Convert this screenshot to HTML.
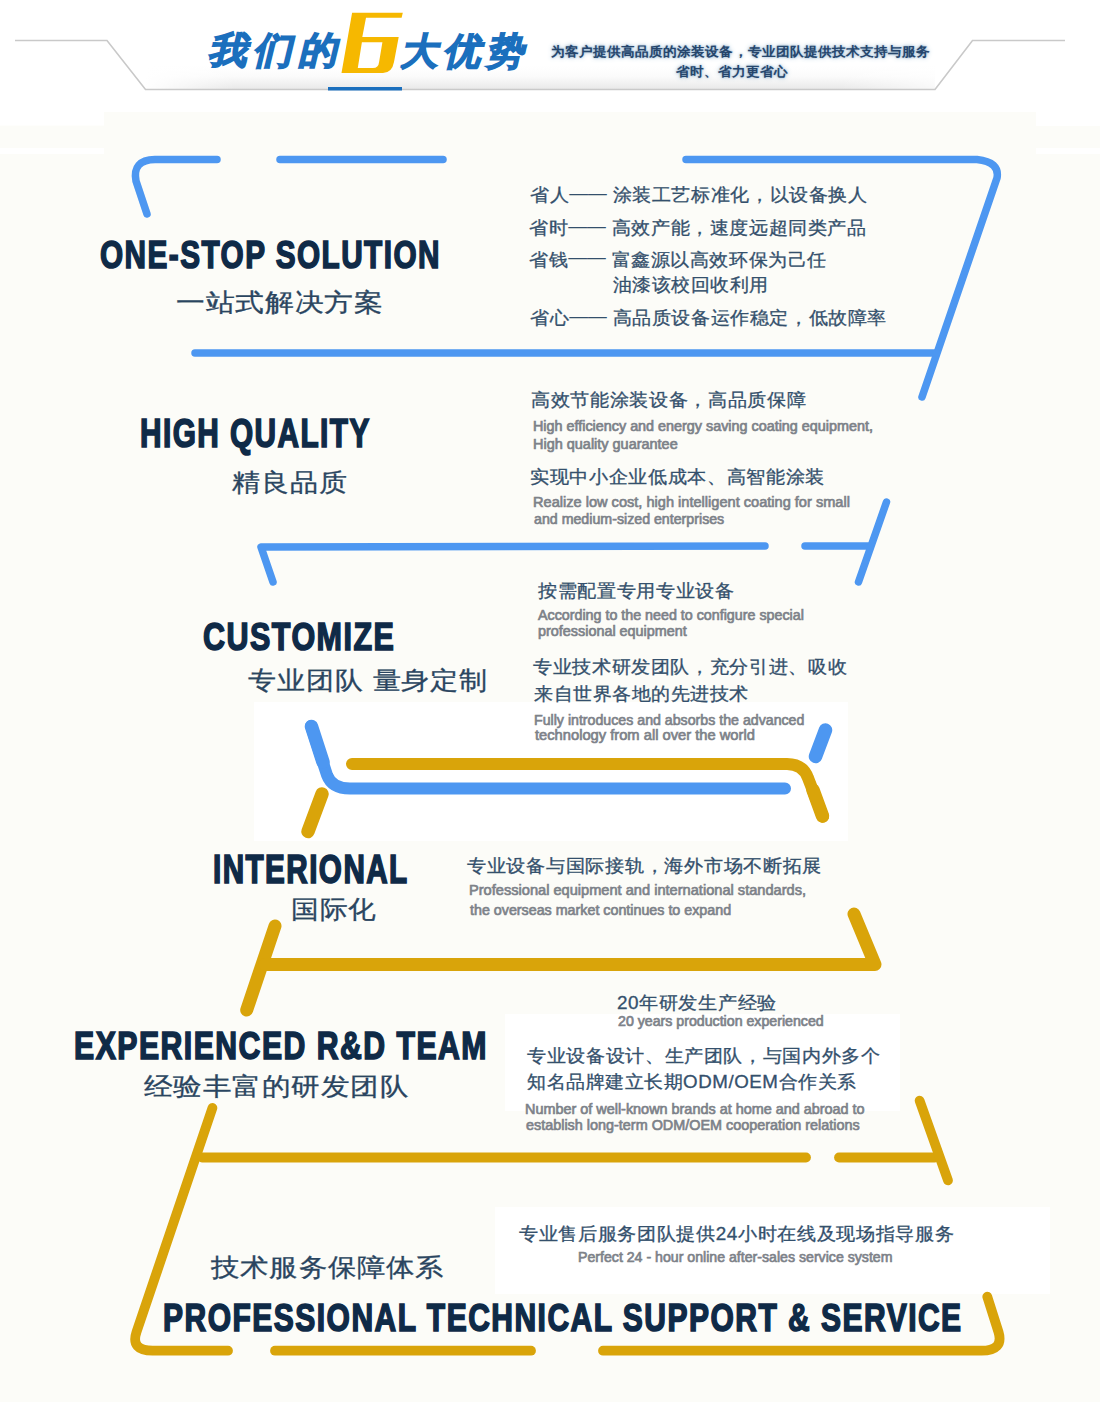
<!DOCTYPE html>
<html><head><meta charset="utf-8">
<style>
html,body{margin:0;padding:0;}
body{width:1100px;height:1402px;position:relative;overflow:hidden;background:#fcfcf8;font-family:"Liberation Sans",sans-serif;}
.a{position:absolute;white-space:nowrap;line-height:1;transform-origin:0 0;}
.ttl{font-weight:bold;color:#0f2a47;}
.cn{color:#2a4560;}
.rt{color:#34506c;}
.en{color:#7d8289;font-weight:normal;-webkit-text-stroke:0.7px #7d8289;}
.hd{font-weight:900;color:#1b6fbd;}
.hs{font-weight:bold;color:#26466c;text-shadow:0 0 2px rgba(130,165,200,0.9),0 0 5px rgba(160,190,215,0.9);}
svg{position:absolute;left:0;top:0;}
.ttl{-webkit-text-stroke:1.7px #0f2a47;}
.rt,.cn{-webkit-text-stroke:0.3px currentColor;}
.hd{-webkit-text-stroke:1.5px #1b6fbd;}
.d{letter-spacing:0;position:relative;top:-2.5px;-webkit-text-stroke:0;}

</style></head><body>
<svg width="1100" height="1402" viewBox="0 0 1100 1402">
  <defs>
    <linearGradient id="band" x1="0" y1="0" x2="0" y2="1">
      <stop offset="0" stop-color="#ffffff"/>
      <stop offset="0.45" stop-color="#fbfbfb"/>
      <stop offset="1" stop-color="#e9e9e9"/>
    </linearGradient>
    <linearGradient id="fadeL" x1="0" y1="0" x2="1" y2="0">
      <stop offset="0" stop-color="#ffffff" stop-opacity="1"/>
      <stop offset="1" stop-color="#ffffff" stop-opacity="0"/>
    </linearGradient>
    <linearGradient id="fadeR" x1="0" y1="0" x2="1" y2="0">
      <stop offset="0" stop-color="#ffffff" stop-opacity="0"/>
      <stop offset="1" stop-color="#ffffff" stop-opacity="0.7"/>
    </linearGradient>
  </defs>
  <!-- header -->
  <g fill="#ffffff">
  <rect x="0" y="0" width="1100" height="112"/>
  <rect x="0" y="112" width="104" height="13.5"/>
  <rect x="1036" y="112" width="64" height="14"/>
  <rect x="0" y="148" width="104" height="6"/>
  <rect x="1036" y="148" width="64" height="6"/>
  <rect x="505" y="1014" width="395" height="97"/>
  <rect x="495" y="1207" width="555" height="87"/>
  </g>
  <polygon points="145,66 935,66 935,89 145,89" fill="url(#band)"/>
  <rect x="145" y="60" width="90" height="30" fill="url(#fadeL)"/>
  <rect x="840" y="60" width="96" height="30" fill="url(#fadeR)"/>
  <polyline points="15,40.5 107,40.5 145.5,89.5 935,89.5 972.5,40.5 1065,40.5" fill="none" stroke="#c9c9c9" stroke-width="1.6"/>
  <rect x="328" y="87" width="74" height="3.5" fill="#1b6fbd"/>
  <!-- gold 6 -->
  <path d="M352.1,12.8 L402.8,12.8 L401.6,17.7 L366,17.7 L362.3,36.9 L398.7,36.9 L394,62 Q392,72.9 383,72.9 L341.5,72.9 Z M361.9,42.2 L382.4,42.2 L379.1,62 Q378.5,68 373,68 L357.8,68 Z" fill="#f6b800" fill-rule="evenodd"/>

  <!-- section 1 blue bracket -->
  <g fill="none" stroke="#4d97f1" stroke-width="7.5" stroke-linecap="round" stroke-linejoin="round">
    <path d="M147,214 L136,181 Q132,160 155,159.5 L217,159.5"/>
    <path d="M280,159.5 L443,159.5"/>
    <path d="M686,159.5 L977,159.5 Q1000,162 997,178 L922,397"/>
    <path d="M195,353 L936,353"/>
  </g>
  <!-- section 2 blue -->
  <g fill="none" stroke="#4d97f1" stroke-width="7.5" stroke-linecap="round" stroke-linejoin="round">
    <path d="M273,582 L261,547 L765,546"/>
    <path d="M805,546 L868,546"/>
    <path d="M886.5,502 L858.5,582"/>
  </g>
  <!-- section 3 white rect -->
  <rect x="254" y="702" width="594" height="139" fill="#ffffff"/>
  <g fill="none" stroke-width="12" stroke-linecap="round" stroke-linejoin="round">
    <path d="M311,726 L327,775 Q332,788.6 350,788.6 L785,788.6" stroke="#4d97f1"/>
    <path d="M352,764 L787,764 Q803,764 808,778 L823,816.7" stroke="#d9a40a"/>
  </g>
  <g fill="none" stroke-width="13.5" stroke-linecap="round">
    <path d="M311.5,726.5 L323,762" stroke="#4d97f1"/>
    <path d="M813,790 L822.5,816" stroke="#d9a40a"/>
    <path d="M825.5,730 L815.5,756.5" stroke="#4d97f1"/>
    <path d="M322,794 L308,831.5" stroke="#d9a40a"/>
  </g>
  <!-- section 4 gold -->
  <g fill="none" stroke="#d9a40a" stroke-width="13" stroke-linecap="round" stroke-linejoin="round">
    <path d="M275,926 L246.7,1010"/>
    <path d="M265,964.4 L875,964.4 L854,914"/>
  </g>
  <!-- section 5 gold -->
  <g fill="none" stroke="#d9a40a" stroke-width="9.8" stroke-linecap="round" stroke-linejoin="round">
    <path d="M212.4,1108 L136.5,1332 Q130.3,1350.7 152.7,1350.7 L228,1350.7"/>
    <path d="M202,1157.5 L806,1157.5"/>
    <path d="M839,1157.5 L935,1157.5"/>
    <path d="M919.6,1100.7 L948,1180.4"/>
    <path d="M275,1350.7 L531,1350.7"/>
    <path d="M603,1350.7 L981.5,1350.7 Q1004,1350.7 998.5,1332 L987.3,1296.7"/>
  </g>
</svg>
<div class="a hd" id="h1" style="left:215.00px;top:32.44px;font-size:37.00px;letter-spacing:6.000px;transform:scale(1.0473,1.0000) skewX(-13deg);">我们的</div>
<div class="a hd" id="h2" style="left:407.00px;top:32.54px;font-size:37.00px;letter-spacing:6.000px;transform:scale(1.0079,1.0000) skewX(-13deg);">大优势</div>
<div class="a hs" id="h3" style="left:550.70px;top:44.55px;font-size:13.30px;letter-spacing:0.400px;transform:scale(1.0477,1.0000);">为客户提供高品质的涂装设备，专业团队提供技术支持与服务</div>
<div class="a hs" id="h4" style="left:675.98px;top:65.00px;font-size:13.30px;letter-spacing:0.400px;transform:scale(1.0420,1.0000);">省时、省力更省心</div>
<div class="a ttl" id="t1" style="left:100.00px;top:234.96px;font-size:41.00px;letter-spacing:2.000px;transform:scale(0.7257,0.9609);">ONE-STOP SOLUTION</div>
<div class="a cn" id="c1" style="left:175.66px;top:289.62px;font-size:25.40px;letter-spacing:0.762px;transform:scale(1.1523,1.0000);">一站式解决方案</div>
<div class="a rt" id="r1a" style="left:529.72px;top:187.30px;font-size:17.80px;letter-spacing:0.534px;transform:scale(1.0580,1.0000);">省人<span class="d">——</span> 涂装工艺标准化，以设备换人</div>
<div class="a rt" id="r1b" style="left:529.00px;top:220.22px;font-size:17.80px;letter-spacing:0.534px;transform:scale(1.0585,1.0000);">省时<span class="d">——</span> 高效产能，速度远超同类产品</div>
<div class="a rt" id="r1c" style="left:529.00px;top:251.70px;font-size:17.80px;letter-spacing:0.534px;transform:scale(1.0563,1.0000);">省钱<span class="d">——</span> 富鑫源以高效环保为己任</div>
<div class="a rt" id="r1d" style="left:612.64px;top:277.24px;font-size:17.80px;letter-spacing:0.534px;transform:scale(1.0507,1.0000);">油漆该校回收利用</div>
<div class="a rt" id="r1e" style="left:529.72px;top:310.46px;font-size:17.80px;letter-spacing:0.534px;transform:scale(1.0576,1.0000);">省心<span class="d">——</span> 高品质设备运作稳定，低故障率</div>
<div class="a ttl" id="t2" style="left:139.60px;top:413.65px;font-size:41.00px;letter-spacing:2.000px;transform:scale(0.7261,0.9694);">HIGH QUALITY</div>
<div class="a cn" id="c2" style="left:231.64px;top:470.25px;font-size:25.40px;letter-spacing:0.762px;transform:scale(1.1220,1.0000);">精良品质</div>
<div class="a rt" id="r2a" style="left:531.02px;top:391.81px;font-size:17.80px;letter-spacing:0.534px;transform:scale(1.0612,1.0000);">高效节能涂装设备，高品质保障</div>
<div class="a en" id="e2a" style="left:532.60px;top:418.53px;font-size:14.18px;transform:scale(1.0135,1.0000);">High efficiency and energy saving coating equipment,</div>
<div class="a en" id="e2b" style="left:532.60px;top:436.50px;font-size:14.40px;transform:scale(1.0048,1.0000);">High quality guarantee</div>
<div class="a rt" id="r2b" style="left:530.36px;top:468.73px;font-size:17.80px;letter-spacing:0.534px;transform:scale(1.0611,1.0000);">实现中小企业低成本、高智能涂装</div>
<div class="a en" id="e2c" style="left:532.60px;top:494.28px;font-size:15.13px;transform:scale(0.9641,1.0000);">Realize low cost, high intelligent coating for small</div>
<div class="a en" id="e2d" style="left:533.60px;top:512.31px;font-size:14.91px;transform:scale(0.9527,1.0000);">and medium-sized enterprises</div>
<div class="a ttl" id="t3" style="left:202.80px;top:618.25px;font-size:41.00px;letter-spacing:2.000px;transform:scale(0.7437,0.9403);">CUSTOMIZE</div>
<div class="a cn" id="c3" style="left:248.00px;top:668.00px;font-size:25.40px;letter-spacing:0.762px;transform:scale(1.1230,1.0000);">专业团队 量身定制</div>
<div class="a rt" id="r3a" style="left:538.00px;top:582.51px;font-size:17.80px;letter-spacing:0.534px;transform:scale(1.0615,1.0000);">按需配置专用专业设备</div>
<div class="a en" id="e3a" style="left:538.00px;top:608.15px;font-size:14.69px;transform:scale(0.9718,1.0000);">According to the need to configure special</div>
<div class="a en" id="e3b" style="left:538.00px;top:623.65px;font-size:14.69px;transform:scale(0.9798,1.0000);">professional equipment</div>
<div class="a rt" id="r3b" style="left:532.66px;top:658.57px;font-size:17.80px;letter-spacing:0.534px;transform:scale(1.0598,1.0000);">专业技术研发团队，充分引进、吸收</div>
<div class="a rt" id="r3c" style="left:533.66px;top:685.66px;font-size:17.80px;letter-spacing:0.534px;transform:scale(1.0539,1.0000);">来自世界各地的先进技术</div>
<div class="a en" id="e3c" style="left:534.40px;top:711.67px;font-size:15.20px;transform:scale(0.9337,1.0000);">Fully introduces and absorbs the advanced</div>
<div class="a en" id="e3d" style="left:535.40px;top:727.18px;font-size:15.13px;transform:scale(0.9722,1.0000);">technology from all over the world</div>
<div class="a ttl" id="t4" style="left:213.40px;top:850.38px;font-size:41.00px;letter-spacing:2.000px;transform:scale(0.7232,0.9806);">INTERIONAL</div>
<div class="a cn" id="c4" style="left:290.66px;top:897.38px;font-size:25.40px;letter-spacing:0.762px;transform:scale(1.1072,1.0000);">国际化</div>
<div class="a rt" id="r4a" style="left:467.00px;top:858.25px;font-size:17.80px;letter-spacing:0.534px;transform:scale(1.0648,1.0000);">专业设备与国际接轨，海外市场不断拓展</div>
<div class="a en" id="e4a" style="left:468.50px;top:882.30px;font-size:14.98px;transform:scale(0.9760,1.0000);">Professional equipment and international standards,</div>
<div class="a en" id="e4b" style="left:469.50px;top:902.20px;font-size:14.98px;transform:scale(0.9538,1.0000);">the overseas market continues to expand</div>
<div class="a ttl" id="t5" style="left:74.40px;top:1025.68px;font-size:41.00px;letter-spacing:2.000px;transform:scale(0.7370,0.9590);">EXPERIENCED R&amp;D TEAM</div>
<div class="a cn" id="c5" style="left:144.00px;top:1073.50px;font-size:25.40px;letter-spacing:0.762px;transform:scale(1.1435,1.0000);">经验丰富的研发团队</div>
<div class="a rt" id="r5a" style="left:617.00px;top:995.48px;font-size:17.80px;letter-spacing:0.534px;transform:scale(1.0617,1.0000);">20年研发生产经验</div>
<div class="a en" id="e5a" style="left:618.00px;top:1013.92px;font-size:14.26px;transform:scale(0.9948,1.0000);">20 years production experienced</div>
<div class="a rt" id="r5b" style="left:527.00px;top:1047.53px;font-size:17.80px;letter-spacing:0.534px;transform:scale(1.0601,1.0000);">专业设备设计、生产团队，与国内外多个</div>
<div class="a rt" id="r5c" style="left:527.00px;top:1073.86px;font-size:17.80px;letter-spacing:0.534px;transform:scale(1.0526,1.0000);">知名品牌建立长期ODM/OEM合作关系</div>
<div class="a en" id="e5b" style="left:525.00px;top:1101.40px;font-size:14.98px;transform:scale(0.9627,1.0000);">Number of well-known brands at home and abroad to</div>
<div class="a en" id="e5c" style="left:526.00px;top:1117.30px;font-size:14.98px;transform:scale(0.9618,1.0000);">establish long-term ODM/OEM cooperation relations</div>
<div class="a cn" id="c6" style="left:210.98px;top:1254.75px;font-size:25.40px;letter-spacing:0.762px;transform:scale(1.1326,1.0000);">技术服务保障体系</div>
<div class="a ttl" id="t6" style="left:162.60px;top:1297.68px;font-size:41.00px;letter-spacing:2.000px;transform:scale(0.7326,0.9590);">PROFESSIONAL TECHNICAL SUPPORT &amp; SERVICE</div>
<div class="a rt" id="r6a" style="left:519.36px;top:1226.45px;font-size:17.80px;letter-spacing:0.534px;transform:scale(1.0618,1.0000);">专业售后服务团队提供24小时在线及现场指导服务</div>
<div class="a en" id="e6a" style="left:578.00px;top:1248.89px;font-size:15.05px;transform:scale(0.9401,1.0000);">Perfect 24 - hour online after-sales service system</div>
</body></html>
